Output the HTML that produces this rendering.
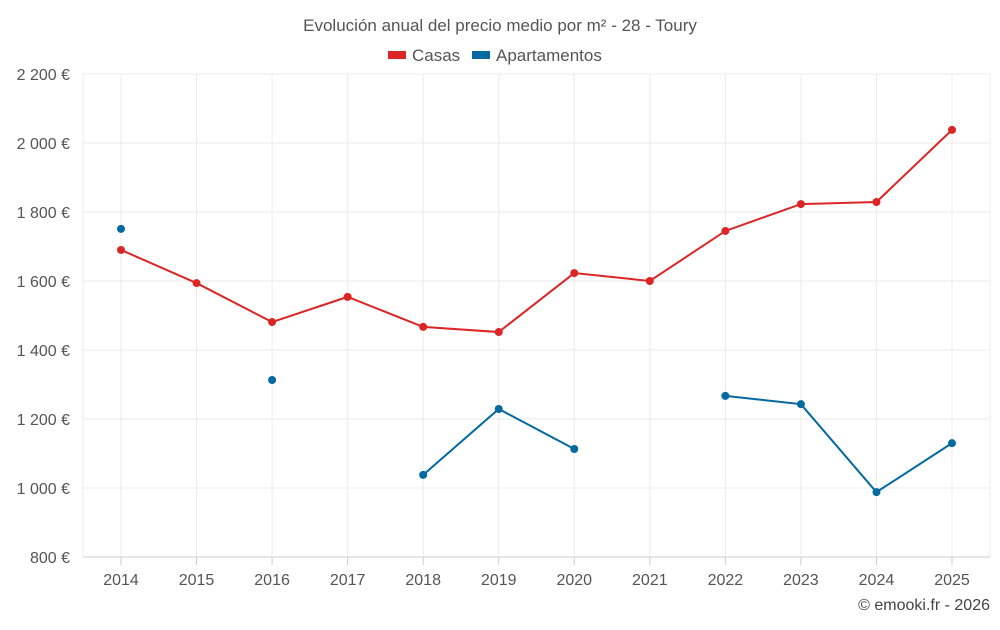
<!DOCTYPE html>
<html><head><meta charset="utf-8"><style>
body{margin:0;background:#fff;font-family:"Liberation Sans",sans-serif;}
svg text{font-family:"Liberation Sans",sans-serif;}
</style></head><body>
<svg id="chart" width="1000" height="625" xmlns="http://www.w3.org/2000/svg"></svg>
<script>
const years=["2014","2015","2016","2017","2018","2019","2020","2021","2022","2023","2024","2025"];
const casas=[1690,1594,1481,1554,1467,1452,1623,1600,1745,1823,1829,2038];
const apartamentos=[1751,null,1313,null,1038,1229,1113,null,1267,1243,988,1130];
const yTicks=[800,1000,1200,1400,1600,1800,2000,2200];
const yTickLabels=["800 €","1 000 €","1 200 €","1 400 €","1 600 €","1 800 €","2 000 €","2 200 €"];

const svg=document.getElementById('chart');
const NS="http://www.w3.org/2000/svg";
const L=83,R=990,T=74,B=557,yMin=800,yMax=2200;
const x0=121,x1=952;
function xs(i){return x0+(x1-x0)*i/(years.length-1);}
function ys(v){return B-(v-yMin)/(yMax-yMin)*(B-T);}
function mk(tag,attrs,parent){const e=document.createElementNS(NS,tag);for(const k in attrs)e.setAttribute(k,attrs[k]);(parent||svg).appendChild(e);return e;}

const grid=mk('g',{});


yTicks.forEach((v,i)=>{
  const ln=mk('line',{x1:L,x2:R,y1:ys(v),y2:ys(v),stroke:i==0?'#ccc':'#ebebeb','stroke-width':1},grid);
  
  
  const t=mk('text',{x:70,y:ys(v)+6,'text-anchor':'end','font-size':16,fill:'#555'});
  t.textContent=yTickLabels[i];
  
  
});
years.forEach((y,i)=>{
  const ln=mk('line',{x1:xs(i),x2:xs(i),y1:T,y2:B,stroke:'#ebebeb','stroke-width':1},grid);
  
  
  const tk=mk('line',{x1:xs(i),x2:xs(i),y1:B,y2:B+8,stroke:'#ccc'},grid);
  
  
  const t=mk('text',{x:xs(i),y:585,'text-anchor':'middle','font-size':16,fill:'#555'});
  t.textContent=y;
  
  
});
const lv=mk('line',{x1:L,x2:L,y1:T,y2:B,stroke:'#ebebeb'});


const rv=mk('line',{x1:R,x2:R,y1:T,y2:B,stroke:'#ebebeb'});



function series(vals,color,name){
  const g=mk('g',{});
  
  
  let seg=[];
  const flush=()=>{if(seg.length>1){const p=mk('polyline',{points:seg.join(' '),fill:'none',stroke:color,'stroke-width':2},g);}seg=[];};
  vals.forEach((v,i)=>{if(v==null){flush();return;}seg.push(xs(i)+','+ys(v));});
  flush();
  vals.forEach((v,i)=>{if(v==null)return;
    const c=mk('circle',{cx:xs(i),cy:ys(v),r:4,fill:color},g);
    
    
  });
}
series(casas,'#dc2626','casas');
series(apartamentos,'#0369a1','apartamentos');

const title=mk('text',{x:500,y:31,'text-anchor':'middle','font-size':17,fill:'#555'});
title.textContent='Evolución anual del precio medio por m² - 28 - Toury';



const lg1=mk('g',{});


mk('rect',{x:388,y:51,width:18,height:8,fill:'#dc2626'},lg1);
const lt1=mk('text',{x:412,y:61,'font-size':17,fill:'#555'},lg1);lt1.textContent='Casas';
const lg2=mk('g',{});


mk('rect',{x:472,y:51,width:18,height:8,fill:'#0369a1'},lg2);
const lt2=mk('text',{x:496,y:61,'font-size':17,fill:'#555'},lg2);lt2.textContent='Apartamentos';

const cr=mk('text',{x:990,y:610,'text-anchor':'end','font-size':16,fill:'#444'});
cr.textContent='© emooki.fr - 2026';


</script>
</body></html>
